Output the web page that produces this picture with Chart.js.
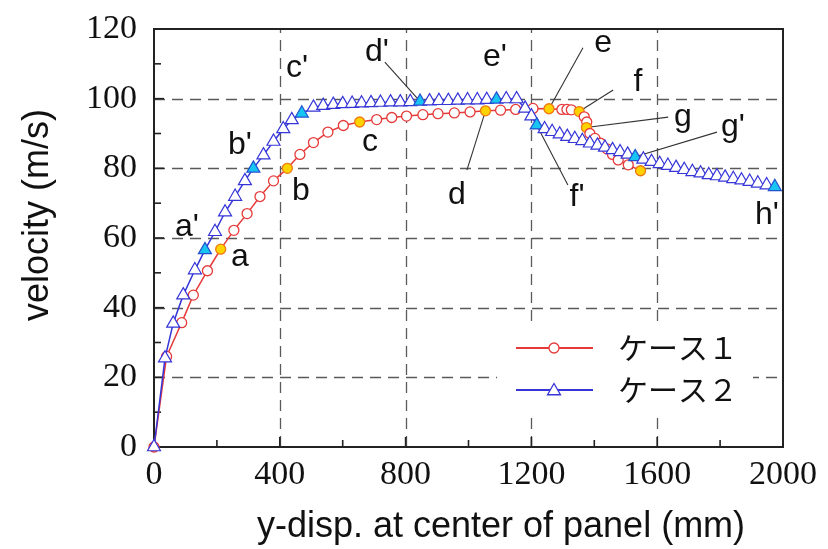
<!DOCTYPE html>
<html><head><meta charset="utf-8">
<script src="https://cdn.jsdelivr.net/npm/chart.js@4/dist/chart.umd.min.js"></script>
<style>html,body{margin:0;padding:0;background:#fff}</style>
</head><body>
<canvas id="c" width="828" height="549"></canvas>
<script>
// ---- data ----
const xTickValues = [0, 400, 800, 1200, 1600, 2000];
const xTickLabels = ['0', '400', '800', '1200', '1600', '2000'];
const yTickValues = [0, 20, 40, 60, 80, 100, 120];
const yTickLabels = ['0', '20', '40', '60', '80', '100', '120'];
const seriesNames = ['ケース１', 'ケース２'];
const xTitle = 'y-disp. at center of panel (mm)';
const yTitle = 'velocity (m/s)';

// ケース1 (red circles)
const case1X = [0,40,88,125,170,212,254,296,337,380,424,464,507,553,602,654,708,756,803,855,903,955,1005,1054,1102,1150,1205,1256,1297,1313,1327,1352,1368,1376,1375,1386,1402,1420,1440,1458,1476,1508,1547];
const case1Y = [0,26,35.7,43.6,50.6,56.8,62.2,67,71.9,76.4,80,84,87.4,90.4,92.3,93.3,94,94.6,95,95.4,95.7,95.9,96.2,96.5,96.7,96.9,97.2,97.1,96.9,96.9,96.8,96.3,94.8,93.3,91.7,90,88.6,87.2,85.6,84,82.4,81,79.3];
const case1MarkIndex = [5,10,15,23,27,31,34,42];

// ケース2 (blue triangles)
const case2X = [0,35,61,93,130,162,194,226,258,289,316,348,380,411,438,470,507,538,570,600,630,660,690,720,752,783,815,846,876,906,936,966,997,1028,1058,1089,1120,1153,1180,1200,1217,1242,1266,1290,1314,1338,1362,1386,1410,1434,1458,1482,1506,1530,1556,1582,1608,1634,1660,1686,1712,1738,1764,1790,1816,1842,1868,1894,1920,1948,1974];
const case2Y = [0,25.5,35.5,43.6,50.8,56.6,61.8,67.4,71.9,76.4,80,83.8,87.7,91.3,93.9,95.8,97.5,98,98.3,98.5,98.6,98.7,98.8,98.9,99,99,99.1,99.2,99.3,99.4,99.4,99.5,99.6,99.6,99.7,99.8,99.9,99.9,97.2,95,92.4,91.3,90.5,89.8,89.1,88.5,87.9,87.2,86.6,86,85.3,84.7,84,83.3,82.6,81.9,81.3,80.8,80.2,79.6,79,78.6,78.1,77.8,77.4,77,76.6,76.2,75.7,75.2,74.7];
const case2MarkIndex = [5,10,15,27,35,40,53,70];

// point labels: text, label position (data units), optional leader to a marked point
const annotations = [
  {text:'a',  at:[273,54.5]},
  {text:"a'", at:[105,63.2]},
  {text:'b',  at:[467,73.5]},
  {text:"b'", at:[273,86.7]},
  {text:'c',  at:[687,87.6]},
  {text:"c'", at:[455,108.8]},
  {text:'d',  at:[963,72.4],  from:[995,79.5],  series:0, idx:23},
  {text:"d'", at:[709,113.4], from:[734,110.5], series:1, idx:27},
  {text:'e',  at:[1428,116],  from:[1364,114.6], series:0, idx:27},
  {text:"e'", at:[1084,112]},
  {text:'f',  at:[1539,104.8], from:[1460,102.5], series:0, idx:31},
  {text:"f'", at:[1345,71.8], from:[1316,75.2], series:1, idx:40},
  {text:'g',  at:[1682,94.7], from:[1635,94.7], series:0, idx:34},
  {text:"g'", at:[1841,91.9], from:[1790,90.4], series:1, idx:53},
  {text:"h'", at:[1949,66.6]}
];

// ---- styles ----
const RED = '#e63a3a', BLUE = '#3535d8';
const YELLOW = '#ffd200', YELLOW_EDGE = '#ee7a10';
const CYAN = '#18c4f2', CYAN_EDGE = '#2450d0';
const SANS = '"Liberation Sans", Arial, sans-serif';
const SERIF = '"Liberation Serif", "Times New Roman", serif';
const CJK = '"Noto Sans CJK JP", "Noto Sans", sans-serif';
const CIRCLE_R = 5, TRI_R = 7.5;

const seriesX = [case1X, case2X], seriesY = [case1Y, case2Y];

function drawMarker(ctx, style, x, y, fill, stroke) {
  ctx.save();
  ctx.fillStyle = fill; ctx.strokeStyle = stroke; ctx.lineWidth = 1.3;
  ctx.beginPath();
  if (style === 'circle') {
    ctx.arc(x, y, CIRCLE_R, 0, Math.PI * 2);
  } else {
    const r = TRI_R;
    ctx.moveTo(x, y - r);
    ctx.lineTo(x + r * Math.sin(2*Math.PI/3), y - r * Math.cos(2*Math.PI/3));
    ctx.lineTo(x + r * Math.sin(4*Math.PI/3), y - r * Math.cos(4*Math.PI/3));
    ctx.closePath();
  }
  ctx.fill(); ctx.stroke();
  ctx.restore();
}

const framePlugin = {
  id: 'framePlugin',
  beforeDatasetsDraw(chart) {
    const {ctx, chartArea: a, scales: {x, y}} = chart;
    ctx.save();
    // dashed grid at inner major ticks
    ctx.strokeStyle = '#5a5a5a'; ctx.lineWidth = 1.3; ctx.setLineDash([11, 7]);
    xTickValues.slice(1, -1).forEach(v => {
      const px = Math.round(x.getPixelForValue(v)) + 0.5;
      ctx.beginPath(); ctx.moveTo(px, a.bottom); ctx.lineTo(px, a.top); ctx.stroke();
    });
    yTickValues.slice(1, -1).forEach(v => {
      const py = Math.round(y.getPixelForValue(v)) + 0.5;
      ctx.beginPath(); ctx.moveTo(a.left, py); ctx.lineTo(a.right, py); ctx.stroke();
    });
    ctx.setLineDash([]);
    // inward ticks (major + minor)
    ctx.strokeStyle = '#222'; ctx.lineWidth = 1.6;
    for (let i = 0; i < xTickValues.length; i++) {
      const v = xTickValues[i];
      const px = x.getPixelForValue(v);
      ctx.beginPath(); ctx.moveTo(px, a.bottom); ctx.lineTo(px, a.bottom - 10); ctx.stroke();
      if (i < xTickValues.length - 1) {
        const m = x.getPixelForValue((v + xTickValues[i+1]) / 2);
        ctx.beginPath(); ctx.moveTo(m, a.bottom); ctx.lineTo(m, a.bottom - 7); ctx.stroke();
      }
    }
    for (let i = 0; i < yTickValues.length; i++) {
      const v = yTickValues[i];
      const py = y.getPixelForValue(v);
      ctx.beginPath(); ctx.moveTo(a.left, py); ctx.lineTo(a.left + 10, py); ctx.stroke();
      if (i < yTickValues.length - 1) {
        const m = y.getPixelForValue((v + yTickValues[i+1]) / 2);
        ctx.beginPath(); ctx.moveTo(a.left, m); ctx.lineTo(a.left + 7, m); ctx.stroke();
      }
    }
    // frame
    ctx.lineWidth = 2; ctx.strokeStyle = '#222';
    ctx.strokeRect(a.left, a.top, a.right - a.left, a.bottom - a.top);
    // leader lines
    ctx.strokeStyle = '#333'; ctx.lineWidth = 1.1;
    annotations.forEach(an => {
      if (!an.from) return;
      const sx = seriesX[an.series][an.idx], sy = seriesY[an.series][an.idx];
      ctx.beginPath();
      ctx.moveTo(x.getPixelForValue(an.from[0]), y.getPixelForValue(an.from[1]));
      ctx.lineTo(x.getPixelForValue(sx), y.getPixelForValue(sy));
      ctx.stroke();
    });
    ctx.restore();
  },
  afterDraw(chart) {
    const {ctx, chartArea: a, scales: {x, y}} = chart;
    ctx.save();
    // point labels
    ctx.fillStyle = '#111';
    ctx.font = '32px ' + SANS;
    ctx.textAlign = 'center'; ctx.textBaseline = 'middle';
    annotations.forEach(an => {
      ctx.fillText(an.text, x.getPixelForValue(an.at[0]), y.getPixelForValue(an.at[1]));
    });
    // axis titles
    ctx.font = '36px ' + SANS;
    ctx.fillText(xTitle, 501, 527);
    ctx.save();
    ctx.translate(38, 215);
    ctx.rotate(-Math.PI / 2);
    ctx.fillText(yTitle, 0, 0);
    ctx.restore();
    // legend (inside plot, white box)
    ctx.fillStyle = '#fff';
    ctx.fillRect(497, 326, 256, 87);
    const rows = [
      {y: 348, color: RED, style: 'circle', name: seriesNames[0]},
      {y: 390, color: BLUE, style: 'triangle', name: seriesNames[1]}
    ];
    rows.forEach(r => {
      ctx.strokeStyle = r.color; ctx.lineWidth = 1.8;
      ctx.beginPath(); ctx.moveTo(516, r.y); ctx.lineTo(593, r.y); ctx.stroke();
      drawMarker(ctx, r.style, 554, r.y + (r.style === 'triangle' ? 1 : 0), '#fff', r.color);
      ctx.fillStyle = '#111';
      ctx.font = '30px ' + CJK;
      ctx.textAlign = 'left'; ctx.textBaseline = 'middle';
      ctx.fillText(r.name, 618, r.y);
    });
    ctx.restore();
  }
};

const ds1 = case1X.map((v, i) => ({x: v, y: case1Y[i]}));
const ds2 = case2X.map((v, i) => ({x: v, y: case2Y[i]}));

new Chart(document.getElementById('c'), {
  type: 'line',
  data: {
    datasets: [
      {
        label: seriesNames[0], data: ds1, order: 2, clip: false,
        borderColor: RED, borderWidth: 1.5, tension: 0,
        pointStyle: 'circle', pointRadius: CIRCLE_R, pointBorderWidth: 1.3,
        pointBackgroundColor: case1X.map((_, i) => case1MarkIndex.includes(i) ? YELLOW : '#fff'),
        pointBorderColor: case1X.map((_, i) => case1MarkIndex.includes(i) ? YELLOW_EDGE : RED)
      },
      {
        label: seriesNames[1], data: ds2, order: 1, clip: false,
        borderColor: BLUE, borderWidth: 1.5, tension: 0,
        pointStyle: 'triangle', pointRadius: TRI_R, pointBorderWidth: 1.2,
        pointBackgroundColor: case2X.map((_, i) => case2MarkIndex.includes(i) ? CYAN : '#fff'),
        pointBorderColor: case2X.map((_, i) => case2MarkIndex.includes(i) ? CYAN_EDGE : BLUE)
      }
    ]
  },
  options: {
    responsive: false, animation: false, devicePixelRatio: 1,
    layout: {padding: {left: 0, top: 29, right: 45, bottom: 0}},
    plugins: {legend: {display: false}, tooltip: {enabled: false}},
    elements: {line: {borderJoinStyle: 'round'}},
    scales: {
      x: {
        type: 'linear', min: 0, max: 2000,
        afterBuildTicks: s => { s.ticks = xTickValues.map(v => ({value: v})); },
        afterFit: s => { s.height = 102; s.paddingLeft = 0; s.paddingRight = 0; s.paddingTop = 0; s.paddingBottom = 0; },
        grid: {display: false, drawTicks: false, tickLength: 0},
        border: {display: false},
        ticks: {font: {family: SERIF, size: 34}, color: '#111', padding: 8, maxRotation: 0, autoSkip: false,
                callback: (v) => xTickLabels[xTickValues.indexOf(v)]}
      },
      y: {
        type: 'linear', min: 0, max: 120,
        afterBuildTicks: s => { s.ticks = yTickValues.map(v => ({value: v})); },
        afterFit: s => { s.width = 154; s.paddingLeft = 0; s.paddingRight = 0; s.paddingTop = 0; s.paddingBottom = 0; },
        grid: {display: false, drawTicks: false, tickLength: 0},
        border: {display: false},
        ticks: {font: {family: SERIF, size: 34}, color: '#111', padding: 17, autoSkip: false,
                callback: (v) => yTickLabels[yTickValues.indexOf(v)]}
      }
    }
  },
  plugins: [framePlugin]
});
</script>
</body></html>
